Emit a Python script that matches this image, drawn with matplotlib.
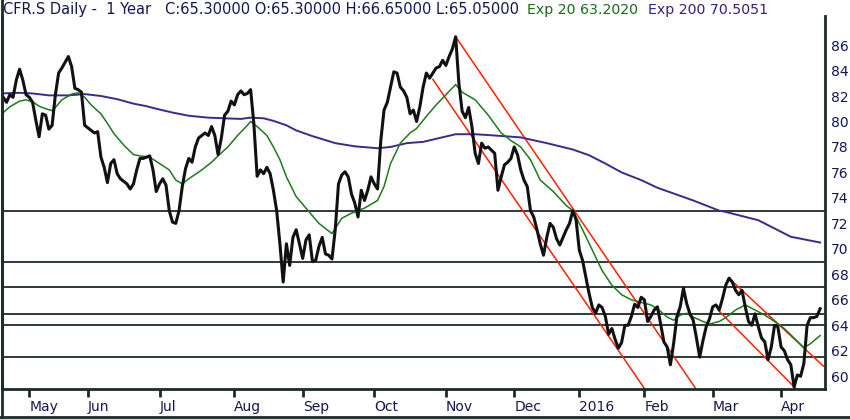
import numpy as np
import pandas as pd
import matplotlib
matplotlib.use("Agg")
import matplotlib.pyplot as plt
from matplotlib.lines import Line2D

# trading calendar (SIX), session 0 = 2015-04-20
holidays = ['2015-05-01', '2015-05-14', '2015-05-25', '2015-12-24', '2015-12-25',
            '2015-12-31', '2016-01-01', '2016-03-25', '2016-03-28']
sessions = pd.bdate_range('2015-04-20', '2016-04-19')
sessions = sessions[~sessions.isin(pd.to_datetime(holidays))]

# daily close (session number, price)
close_day = [0, 1, 2, 3, 4, 5, 6, 7, 8, 9, 10, 11, 12, 13, 14, 15, 16, 17, 18, 19,
             21, 22, 23, 24, 25, 26, 27, 28, 29, 30, 31, 32, 33, 34, 35, 36, 37, 39, 40, 41,
             42, 43, 44, 46, 47, 48, 49, 50, 51, 52, 53, 54, 55, 56, 57, 58, 59, 60, 61, 62,
             63, 64, 65, 66, 67, 68, 69, 70, 71, 72, 73, 74, 75, 76, 77, 78, 79, 80, 81, 82,
             83, 84, 85, 86, 87, 88, 89, 90, 91, 92, 93, 94, 95, 96, 97, 98, 99, 100, 101, 102,
             103, 104, 105, 106, 107, 108, 109, 110, 111, 112, 113, 114, 115, 116, 117, 118, 119, 120, 121, 122,
             123, 124, 125, 126, 127, 128, 129, 130, 131, 132, 133, 134, 135, 136, 137, 138, 139, 140, 141, 142,
             143, 144, 145, 146, 147, 148, 149, 150, 151, 152, 153, 154, 155, 156, 157, 158, 159, 160, 161, 162,
             163, 164, 165, 166, 167, 168, 169, 170, 171, 172, 174, 175, 176, 177, 178, 179, 180, 181, 182, 183,
             184, 185, 186, 187, 188, 189, 190, 191, 192, 193, 194, 195, 196, 197, 198, 199, 200, 201, 202, 203,
             204, 205, 206, 207, 208, 209, 210, 211, 212, 213, 214, 215, 216, 217, 218, 219, 220, 221, 222, 223,
             224, 225, 226, 227, 228, 229, 230, 231, 232, 233, 234, 235, 236, 237, 238, 239, 240, 241, 242, 243,
             244, 245, 246, 247, 248, 249, 250, 251, 252]
close = [80.9, 81.9, 81.5, 82.1, 81.9, 83.25, 84.1, 83.25, 82.1, 81.9, 81.5, 80.1, 78.8, 80.6, 80.5, 79.4, 79.7, 82.1, 83.8, 84.2,
         85.1, 84.3, 82.6, 82.5, 82.3, 79.7, 79.5, 79.3, 79.1, 79.2, 77.2, 76.4, 75.2, 76.7, 77.0, 75.9, 75.5, 75.1, 74.7, 75.1,
         76.2, 77.1, 77.1, 77.3, 76.2, 74.5, 75.1, 75.5, 75.0, 73.0, 72.1, 72.0, 73.0, 74.9, 76.3, 77.1, 76.8, 78.0, 78.7, 78.9,
         79.1, 78.9, 79.6, 78.9, 77.4, 78.7, 80.5, 80.8, 81.6, 81.3, 82.1, 82.4, 82.1, 82.2, 82.5, 79.8, 75.7, 76.2, 75.9, 76.4,
         75.9, 74.6, 73.0, 70.4, 67.4, 70.4, 68.7, 70.9, 71.5, 70.4, 69.25, 70.7, 71.1, 69.0, 69.1, 70.2, 70.9, 69.6, 69.5, 69.2,
         71.5, 75.1, 75.8, 76.05, 75.65, 74.3, 73.6, 72.5, 74.6, 73.8, 74.6, 75.65, 75.1, 74.7, 78.5, 80.9, 81.5, 82.7, 83.9, 83.8,
         82.7, 82.4, 81.9, 80.6, 80.9, 80.0, 81.15, 82.7, 83.8, 83.4, 83.8, 84.2, 84.3, 84.8, 84.4, 85.1, 85.7, 86.65, 83.0, 80.8,
         80.3, 81.1, 79.6, 77.5, 76.7, 78.3, 77.9, 78.0, 77.75, 77.5, 74.6, 75.65, 76.6, 76.8, 77.1, 78.0, 77.4, 76.2, 75.4, 74.9,
         73.0, 72.5, 71.5, 70.4, 69.5, 70.9, 72.0, 71.7, 70.8, 70.3, 71.5, 72.0, 73.0, 72.3, 69.9, 69.1, 67.8, 66.5, 65.4, 64.95,
         65.6, 65.4, 64.7, 63.3, 63.75, 62.9, 62.2, 62.65, 64.0, 64.0, 64.7, 65.65, 65.4, 66.2, 66.0, 64.3, 64.7, 65.2, 65.45, 64.1,
         62.7, 62.3, 60.9, 62.6, 64.7, 65.45, 66.9, 65.7, 64.9, 64.4, 63.0, 61.5, 62.8, 63.9, 64.5, 65.45, 65.6, 65.2, 66.1, 67.15,
         67.7, 67.4, 66.75, 66.4, 66.75, 65.45, 64.3, 64.0, 64.9, 63.9, 63.0, 62.7, 61.3, 62.3, 64.0, 63.9, 62.3, 62.0, 61.3, 60.9,
         59.15, 60.1, 60.0, 61.0, 64.0, 64.6, 64.6, 64.7, 65.3]

# exponential averages as drawn
ema20_day = [1, 3, 6, 8, 10, 12, 14, 16, 17, 19, 22, 24, 26, 28, 31, 33, 35, 38, 41, 43,
             46, 49, 52, 54, 56, 58, 62, 65, 67, 70, 73, 76, 77, 79, 82, 84, 86, 88, 91, 95,
             98, 102, 105, 108, 112, 116, 118, 120, 123, 126, 128, 131, 134, 137, 140, 142, 146, 150, 154, 157,
             160, 163, 166, 170, 174, 176, 179, 182, 185, 188, 191, 194, 197, 200, 202, 205, 207, 209, 211, 213,
             216, 218, 221, 223, 226, 229, 232, 235, 238, 241, 244, 247, 249, 252]
ema20 = [80.7, 81.15, 81.6, 81.7, 81.55, 81.2, 81.0, 80.85, 81.1, 81.7, 82.15, 82.25, 81.9, 81.3, 80.6, 79.85, 79.05, 78.15, 77.4, 77.3,
         77.2, 76.7, 76.2, 75.4, 75.1, 75.5, 76.2, 76.8, 77.3, 78.0, 78.9, 79.7, 80.0, 79.6, 78.9, 78.0, 77.0, 75.65, 74.1, 72.9,
         72.0, 71.2, 72.4, 72.8, 73.2, 73.8, 74.9, 76.7, 78.3, 79.1, 79.45, 80.4, 81.3, 82.1, 82.9, 82.3, 81.7, 80.5, 79.1, 78.5,
         78.0, 77.0, 75.4, 74.5, 73.4, 73.0, 71.5, 69.9, 68.3, 67.15, 66.4, 66.0, 65.8, 65.6, 65.3, 64.65, 64.4, 64.8, 64.95, 64.65,
         64.3, 64.1, 64.3, 64.6, 65.2, 65.6, 65.2, 64.8, 64.3, 63.75, 63.0, 62.25, 62.55, 63.2]

ema200_day = [0, 6, 10, 15, 21, 26, 31, 36, 41, 45, 48, 53, 58, 64, 69, 74, 77, 81, 84, 88,
              91, 96, 103, 109, 116, 120, 125, 130, 135, 140, 146, 152, 160, 168, 176, 181, 186, 191, 197, 202,
              213, 221, 223, 233, 243, 252]
ema200 = [82.2, 82.25, 82.2, 82.05, 82.05, 82.15, 82.0, 81.75, 81.4, 81.2, 81.0, 80.7, 80.45, 80.3, 80.25, 80.2, 80.3, 80.25, 80.05, 79.7,
          79.3, 78.85, 78.3, 78.05, 77.9, 78.0, 78.3, 78.4, 78.7, 79.0, 79.0, 78.9, 78.75, 78.3, 77.8, 77.35, 76.7, 76.0, 75.4, 74.8,
          73.8, 73.0, 72.9, 72.25, 70.95, 70.5]

# horizontal support / resistance levels
levels = [73.0, 69.0, 67.0, 64.85, 64.0, 61.5]

# red channel lines: (start session, end session) and (start price, end price)
trend_x = [(140, 216), (133, 200), (224, 253), (221, 247)]
trend_y = [(86.65, 58.2), (83.3, 58.3), (67.7, 60.8), (65.1, 58.4)]

navy = '#14174f'
fig = plt.figure(figsize=(8.5, 4.19), dpi=100)
ax = fig.add_axes([2 / 850, 30 / 419, 823 / 850, 373 / 419])

for lv in levels:
    ax.axhline(lv, color='#1c2b2b', lw=1.3, zorder=1)

for tx, ty in zip(trend_x, trend_y):
    ax.plot(tx, ty, color='#ff2200', lw=1.1, zorder=2)

ax.plot(ema200_day, ema200, color='#3b2a8e', lw=1.4, zorder=3)
ax.plot(ema20_day, ema20, color='#1d7a1d', lw=1.1, zorder=4)
ax.plot(close_day, close, color='#111111', lw=2.2, zorder=5, solid_joinstyle='round')

ax.set_xlim(0.6, 253.5)
ax.set_ylim(59.0, 88.28)

# month ticks at first session of each month
months = pd.Series(np.arange(len(sessions)), index=sessions)
first = months.groupby([sessions.year, sessions.month]).first()
first = first[first > 0]
tick_pos = first.values
tick_lab = []
for (yr, mo) in first.index:
    tick_lab.append(str(yr) if mo == 1 else pd.Timestamp(yr, mo, 1).strftime('%b'))
ax.set_xticks(tick_pos)
ax.set_xticklabels(tick_lab, ha='left')
ax.tick_params(axis='x', length=6, width=2, color='#1c2b2b', pad=2,
               labelsize=10, labelcolor=navy)

ax.yaxis.tick_right()
ax.set_yticks(np.arange(60, 87, 2))
ax.tick_params(axis='y', length=0, pad=4, labelsize=10, labelcolor=navy)
for lab in ax.get_yticklabels():
    lab.set_horizontalalignment('left')

ax.spines['top'].set_visible(False)
for s in ['left', 'right', 'bottom']:
    ax.spines[s].set_linewidth(2)
    ax.spines[s].set_color('#1c2b2b')

# outer frame, left and bottom
fig.add_artist(Line2D([2 / 850, 2 / 850], [0, 1], transform=fig.transFigure, color='#1c2b2b', lw=2))
fig.add_artist(Line2D([0, 1], [2 / 419, 2 / 419], transform=fig.transFigure, color='#1c2b2b', lw=2))

ty = (419 - 14) / 419
fig.text(3 / 850, ty, 'CFR.S Daily -  1 Year   C:65.30000 O:65.30000 H:66.65000 L:65.05000',
         color=navy, fontsize=10.5, va='baseline')
fig.text(527 / 850, ty, 'Exp 20 63.2020', color='#1b6a1b', fontsize=10.2, va='baseline')
fig.text(648 / 850, ty, 'Exp 200 70.5051', color='#3a1f7d', fontsize=10.2, va='baseline')

fig.savefig('out.png', dpi=100)
